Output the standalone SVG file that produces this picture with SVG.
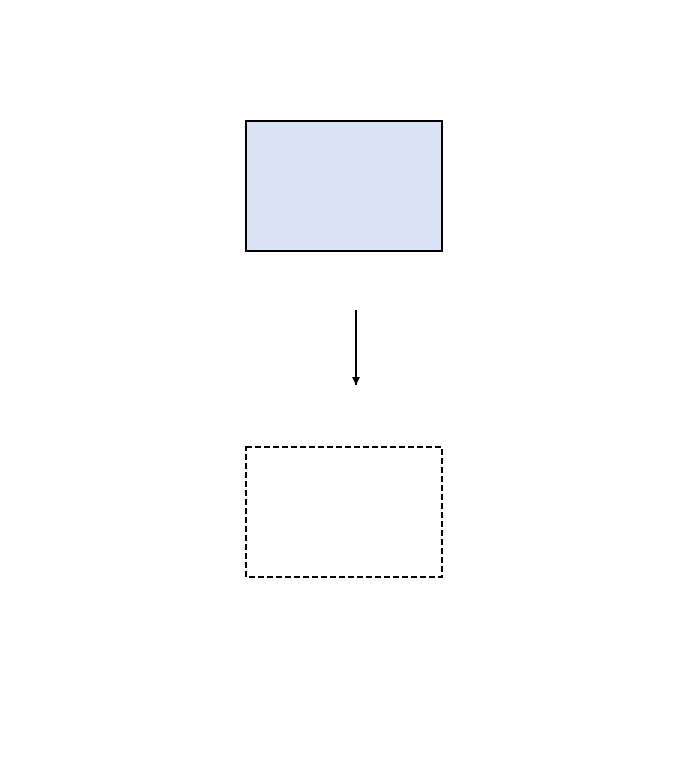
<svg xmlns="http://www.w3.org/2000/svg" width="678" height="766" viewBox="0 0 678 766">
<style>
.box{stroke:#000;stroke-width:2}
.conn{stroke:#000;stroke-width:2;fill:none}
</style>
<defs>
<marker id="ah" markerWidth="8" markerHeight="8" refX="8" refY="4" orient="auto" markerUnits="userSpaceOnUse">
<path d="M0,0 L8,4 L0,8 Z" fill="#000"/>
</marker>
</defs>
<rect width="678" height="766" fill="#fff"/>
<g id="node-top">
<rect class="box" x="246" y="121" width="196" height="130" fill="#dae3f3"/>
</g>
<g id="node-bottom">
<rect class="box" x="246" y="447" width="196" height="130" fill="#fff" stroke-dasharray="6,3"/>
</g>
<g id="connectors">
<line class="conn" x1="356" y1="310" x2="356" y2="385" marker-end="url(#ah)"/>
</g>
</svg>
